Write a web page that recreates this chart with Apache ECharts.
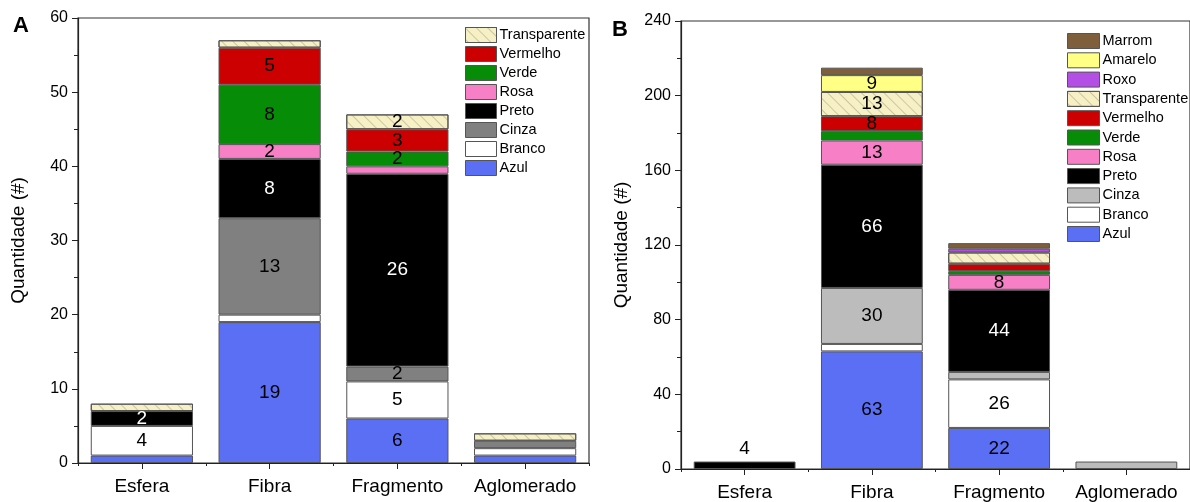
<!DOCTYPE html>
<html>
<head>
<meta charset="utf-8">
<script src="https://cdn.jsdelivr.net/npm/echarts@6/dist/echarts.min.js"></script>
<style>
  html, body { margin: 0; padding: 0; background: #fff; }
  #chart { width: 1190px; height: 502px; }
</style>
</head>
<body>
<div id="chart"></div>
<script>
// categorias
const categorias = ['Esfera', 'Fibra', 'Fragmento', 'Aglomerado']

// painel A
const azulA = [1, 19, 6, 1]
const brancoA = [4, 1, 5, 1]
const cinzaA = [0, 13, 2, 1]
const pretoA = [2, 8, 26, 0]
const rosaA = [0, 2, 1, 0]
const verdeA = [0, 8, 2, 0]
const vermelhoA = [0, 5, 3, 0]
const transparenteA = [1, 1, 2, 1]

// painel B
const azulB = [0, 63, 22, 0]
const brancoB = [0, 4, 26, 0]
const cinzaB = [0, 30, 4, 4]
const pretoB = [4, 66, 44, 0]
const rosaB = [0, 13, 8, 0]
const verdeB = [0, 5, 2, 0]
const vermelhoB = [0, 8, 4, 0]
const transparenteB = [0, 13, 6, 0]
const roxoB = [0, 0, 2, 0]
const amareloB = [0, 9, 0, 0]
const marromB = [0, 4, 3, 0]

const ticksA = [0, 60, 10]
const ticksB = [0, 240, 40]

const cores = {
  Azul: '#5b6ff5',
  Branco: '#ffffff',
  CinzaA: '#808080',
  CinzaB: '#bcbcbc',
  Preto: '#000000',
  Rosa: '#f77fc6',
  Verde: '#078c07',
  Vermelho: '#cc0000',
  Transparente: '#f6f0c4',
  Roxo: '#b44fe6',
  Amarelo: '#ffff85',
  Marrom: '#7f5f3b'
}

const hachura = {
  symbol: 'rect',
  symbolSize: 1,
  dashArrayX: [1, 0],
  dashArrayY: [1, 7],
  rotation: Math.PI / 4,
  color: 'rgba(120,120,100,0.35)'
}

const fonte = 'Liberation Sans, Arial, sans-serif'

function serie(nome, valores, cor, eixo, minimo, topo) {
  return {
    name: nome,
    type: 'bar',
    stack: 'p' + eixo,
    xAxisIndex: eixo,
    yAxisIndex: eixo / 2,
    barWidth: '80%',
    data: valores.map(function (v, i) {
      if (v === 0) return null
      if (topo && i === 0) {
        return { value: v, label: { show: true, position: 'top', distance: 3, color: '#000', formatter: '{c}' } }
      }
      return v
    }),
    itemStyle: {
      color: cor,
      borderColor: '#555',
      borderWidth: 1,
      decal: nome === 'Transparente' ? hachura : null
    },
    label: {
      show: true,
      position: 'inside',
      fontFamily: fonte,
      fontSize: 19,
      color: nome === 'Preto' ? '#fff' : '#000',
      formatter: function (p) { return p.value >= minimo ? p.value : '' }
    },
    emphasis: { disabled: true }
  }
}

function eixoX(grid, comRotulo) {
  return {
    type: 'category',
    gridIndex: grid,
    position: 'bottom',
    data: categorias,
    axisLine: { show: comRotulo, lineStyle: { color: '#222', width: 1.2 } },
    axisTick: comRotulo
      ? { show: true, alignWithLabel: true, length: 6, lineStyle: { color: '#222' } }
      : { show: true, interval: 0, length: 3, lineStyle: { color: '#222' } },
    axisLabel: {
      show: comRotulo,
      interval: 0,
      fontFamily: fonte,
      fontSize: 19,
      color: '#000',
      margin: 14
    },
    splitLine: { show: false }
  }
}

function eixoY(grid, t) {
  return {
    type: 'value',
    gridIndex: grid,
    min: t[0],
    max: t[1],
    interval: t[2],
    name: 'Quantidade (#)',
    nameLocation: 'middle',
    nameGap: 50,
    nameTextStyle: { fontFamily: fonte, fontSize: 19, color: '#000' },
    axisLine: { show: true, lineStyle: { color: '#222', width: 1.2 } },
    axisTick: { show: true, length: 6, lineStyle: { color: '#222' } },
    minorTick: { show: true, splitNumber: 2, length: 4, lineStyle: { color: '#222' } },
    axisLabel: { fontFamily: fonte, fontSize: 16, color: '#000', margin: 10 },
    splitLine: { show: false }
  }
}

function itemLegenda(nome, cor) {
  return { name: nome, icon: 'rect', itemStyle: { color: cor, borderColor: '#555', borderWidth: 1 } }
}

const myChart = echarts.init(document.getElementById('chart'))

const option = {
  animation: false,
  backgroundColor: '#fff',
  grid: [
    { left: 78, top: 18, width: 511, bottom: 39, show: true, borderColor: '#333', borderWidth: 1.2, containLabel: false },
    { left: 681, top: 21, width: 514, bottom: 33, show: true, borderColor: '#333', borderWidth: 1.2, containLabel: false }
  ],
  xAxis: [eixoX(0, true), eixoX(0, false), eixoX(1, true), eixoX(1, false)],
  yAxis: [eixoY(0, ticksA), eixoY(1, ticksB)],
  legend: [
    {
      orient: 'vertical',
      left: 460,
      top: 22,
      itemWidth: 31,
      itemHeight: 15,
      itemGap: 3,
      selectedMode: false,
      textStyle: { fontFamily: fonte, fontSize: 14.5, color: '#000', padding: [0, 0, 0, -2] },
      data: [
        itemLegenda('Transparente', cores.Transparente),
        itemLegenda('Vermelho', cores.Vermelho),
        itemLegenda('Verde', cores.Verde),
        itemLegenda('Rosa', cores.Rosa),
        itemLegenda('Preto', cores.Preto),
        itemLegenda('Cinza', cores.CinzaA),
        itemLegenda('Branco', cores.Branco),
        itemLegenda('Azul', cores.Azul)
      ]
    },
    {
      orient: 'vertical',
      left: 1062,
      top: 28,
      itemWidth: 32,
      itemHeight: 15,
      itemGap: 3.3,
      selectedMode: false,
      textStyle: { fontFamily: fonte, fontSize: 14.5, color: '#000', padding: [0, 0, 0, -2] },
      data: [
        itemLegenda('Marrom', cores.Marrom),
        itemLegenda('Amarelo', cores.Amarelo),
        itemLegenda('Roxo', cores.Roxo),
        itemLegenda('Transparente', cores.Transparente),
        itemLegenda('Vermelho', cores.Vermelho),
        itemLegenda('Verde', cores.Verde),
        itemLegenda('Rosa', cores.Rosa),
        itemLegenda('Preto', cores.Preto),
        itemLegenda('Cinza', cores.CinzaB),
        itemLegenda('Branco', cores.Branco),
        itemLegenda('Azul', cores.Azul)
      ]
    }
  ],
  graphic: [
    { type: 'text', left: 13, top: 15, style: { text: 'A', font: 'bold 22px ' + fonte, fill: '#000' } },
    { type: 'text', left: 612, top: 19, style: { text: 'B', font: 'bold 22px ' + fonte, fill: '#000' } }
  ],
  series: [
    serie('Azul', azulA, cores.Azul, 0, 2),
    serie('Branco', brancoA, cores.Branco, 0, 2),
    serie('Cinza', cinzaA, cores.CinzaA, 0, 2),
    serie('Preto', pretoA, cores.Preto, 0, 2),
    serie('Rosa', rosaA, cores.Rosa, 0, 2),
    serie('Verde', verdeA, cores.Verde, 0, 2),
    serie('Vermelho', vermelhoA, cores.Vermelho, 0, 2),
    serie('Transparente', transparenteA, cores.Transparente, 0, 2),

    serie('Azul', azulB, cores.Azul, 2, 8),
    serie('Branco', brancoB, cores.Branco, 2, 8),
    serie('Cinza', cinzaB, cores.CinzaB, 2, 8),
    serie('Preto', pretoB, cores.Preto, 2, 8, true),
    serie('Rosa', rosaB, cores.Rosa, 2, 8),
    serie('Verde', verdeB, cores.Verde, 2, 8),
    serie('Vermelho', vermelhoB, cores.Vermelho, 2, 8),
    serie('Transparente', transparenteB, cores.Transparente, 2, 8),
    serie('Roxo', roxoB, cores.Roxo, 2, 8),
    serie('Amarelo', amareloB, cores.Amarelo, 2, 8),
    serie('Marrom', marromB, cores.Marrom, 2, 8)
  ]
}

myChart.setOption(option)

window.addEventListener('resize', function () {
  myChart.resize()
})
</script>
</body>
</html>
